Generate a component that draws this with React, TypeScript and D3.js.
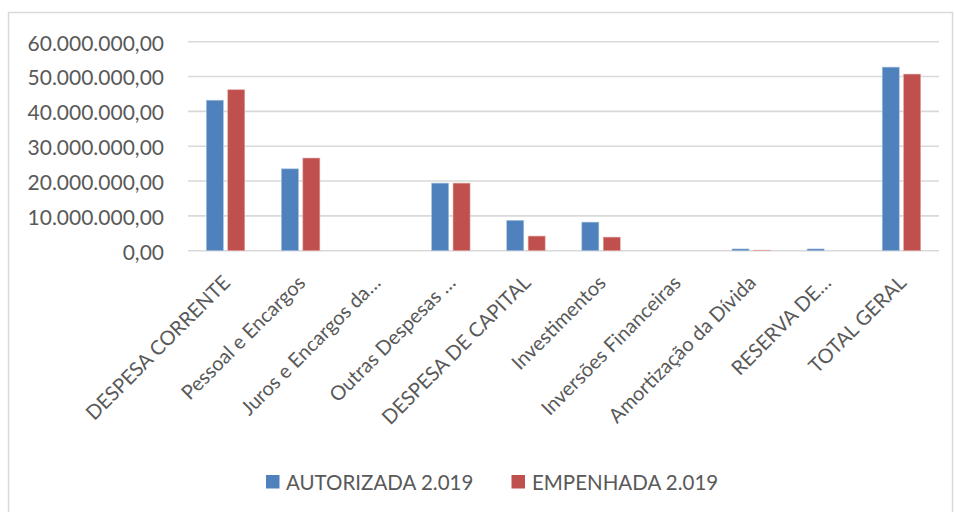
import React from "react";
import * as d3 from "d3";

const categories = [
  "DESPESA CORRENTE",
  "Pessoal e Encargos",
  "Juros e Encargos da…",
  "Outras Despesas …",
  "DESPESA DE CAPITAL",
  "Investimentos",
  "Inversões Financeiras",
  "Amortização da Dívida",
  "RESERVA DE…",
  "TOTAL GERAL",
];
const autorizada = [43200000, 23500000, 0, 19400000, 8700000, 8200000, 0, 500000, 500000, 52700000];
const empenhada = [46200000, 26600000, 0, 19400000, 4200000, 3900000, 0, 150000, 0, 50700000];
const seriesNames = ["AUTORIZADA 2.019", "EMPENHADA 2.019"];
const seriesColors = ["#4F81BD", "#C0504D"];
const yTicks = [0, 10000000, 20000000, 30000000, 40000000, 50000000, 60000000];

const W = 954;
const H = 512;
const FONT = "Lato, 'Open Sans', sans-serif";
const TEXT = "#595959";

const fmt = (v: number) => {
  const s = d3.format(",.2f")(v);
  return s.replace(/,/g, "#").replace(".", ",").replace(/#/g, ".");
};

export default function App() {
  const left = 188;
  const right = 939;
  const top = 41.7;
  const bottom = 250.7;

  const x0 = d3.scaleBand<string>().domain(categories).range([left, right]).paddingInner(0).paddingOuter(0);
  const x1 = d3
    .scaleBand<string>()
    .domain(seriesNames)
    .range([0, x0.bandwidth()])
    .paddingInner(0.206)
    .paddingOuter(0.857);
  const y = d3.scaleLinear().domain([0, 60000000]).range([bottom, top]);

  const data = [autorizada, empenhada];

  return (
    <svg width={W} height={H} style={{ display: "block", position: "absolute", left: 0, top: 0 }}>
      <rect x={0} y={0} width={W} height={H} fill="#fff" />
      <rect x={8.5} y={12.5} width={944} height={H + 20} fill="#fff" stroke="#D9D9D9" strokeWidth={1.5} />
      {yTicks.map((t) => (
        <g key={t}>
          <line x1={left} x2={right} y1={y(t)} y2={y(t)} stroke="#D9D9D9" strokeWidth={1.6} />
          <text
            x={164}
            y={y(t) + 1.5}
            dy="0.35em"
            textAnchor="end"
            fontFamily={FONT}
            fontSize={21}
            fill={TEXT}
          >
            {fmt(t)}
          </text>
        </g>
      ))}
      {categories.map((c, i) => (
        <g key={c}>
          {seriesNames.map((s, j) => {
            const v = data[j][i];
            if (v <= 0) return null;
            const yy = y(v);
            return (
              <rect
                key={s}
                x={(x0(c) as number) + (x1(s) as number)}
                y={yy}
                width={x1.bandwidth()}
                height={bottom - yy}
                fill={seriesColors[j]}
                stroke={j === 0 ? "#A7BFDE" : "#E0A8A6"}
                strokeWidth={0.6}
              />
            );
          })}
        </g>
      ))}
      {categories.map((c) => {
        const cx = (x0(c) as number) + x0.bandwidth() / 2 + 6;
        const cy = 284;
        return (
          <text
            key={c}
            x={cx}
            y={cy}
            transform={`rotate(-45 ${cx} ${cy})`}
            textAnchor="end"
            fontFamily={FONT}
            fontSize={20}
            fill={TEXT}
          >
            {c}
          </text>
        );
      })}
      {[
        { sx: 266, tx: 286 },
        { sx: 511.5, tx: 532 },
      ].map((p, j) => (
        <g key={j}>
          <rect x={p.sx} y={475} width={13.5} height={13.5} fill={seriesColors[j]} />
          <text x={p.tx} y={489.5} fontFamily={FONT} fontSize={20.5} fill={TEXT}>
            {seriesNames[j]}
          </text>
        </g>
      ))}
    </svg>
  );
}
